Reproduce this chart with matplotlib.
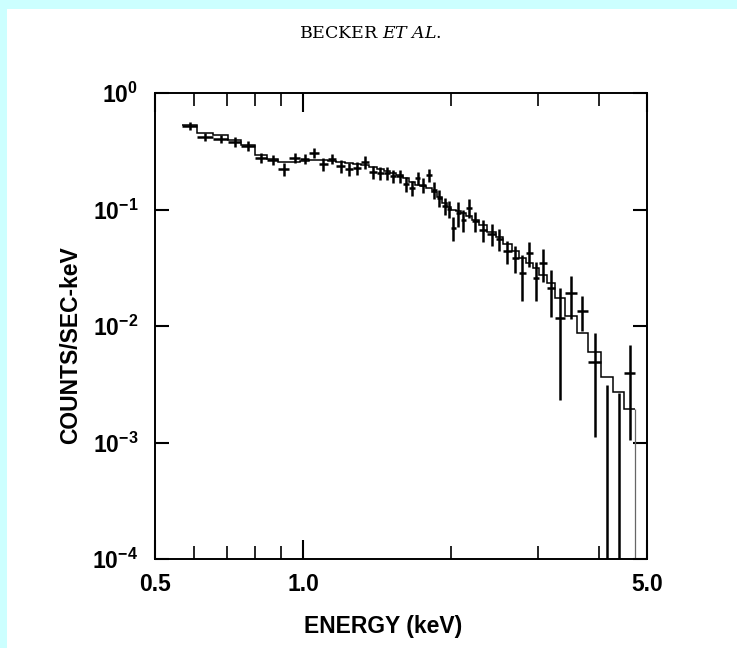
import numpy as np
import matplotlib
matplotlib.use("Agg")
import matplotlib.pyplot as plt
from matplotlib.patches import Rectangle
from matplotlib.ticker import FixedLocator, FixedFormatter, NullFormatter, NullLocator

# pulse-height channel boundaries (keV)
bin_edges = [0.567, 0.610, 0.657, 0.705, 0.749, 0.798, 0.846, 0.891, 0.938, 0.986,
             1.030, 1.075, 1.121, 1.169, 1.217, 1.263, 1.311, 1.361, 1.410, 1.457,
             1.502, 1.548, 1.596, 1.642, 1.688, 1.732, 1.777, 1.824, 1.867, 1.916,
             1.961, 1.998, 2.041, 2.089, 2.143, 2.204, 2.278, 2.370, 2.461, 2.554,
             2.652, 2.746, 2.838, 2.926, 3.023, 3.131, 3.258, 3.414, 3.595, 3.802,
             4.031, 4.264, 4.500, 4.727]

# observed rate per channel (counts/sec-keV), nan where only a limit exists
rate = [0.521, 0.419, 0.403, 0.380, 0.351, 0.277, 0.266, 0.223, 0.277, 0.271,
        0.305, 0.246, 0.271, 0.236, 0.223, 0.227, 0.256, 0.210, 0.206, 0.206,
        0.194, 0.194, 0.166, 0.153, 0.186, 0.162, 0.198, 0.147, 0.126, 0.107,
        0.101, 0.0694, 0.0933, 0.0813, 0.103, 0.0796, 0.0667, 0.0616, 0.0558, 0.0440,
        0.0384, 0.0285, 0.0423, 0.0258, 0.0347, 0.0212, 0.0117, 0.0192, 0.0135, 0.00491,
        np.nan, np.nan, 0.00395]

rate_err = [0.042, 0.034, 0.032, 0.038, 0.035, 0.028, 0.027, 0.028, 0.028, 0.027,
            0.030, 0.031, 0.027, 0.030, 0.028, 0.029, 0.032, 0.026, 0.026, 0.026,
            0.024, 0.024, 0.025, 0.023, 0.023, 0.024, 0.025, 0.025, 0.021, 0.018,
            0.017, 0.016, 0.022, 0.017, 0.019, 0.015, 0.014, 0.013, 0.012, 0.010,
            0.010, 0.012, 0.0105, 0.0095, 0.011, 0.0092, 0.0094, 0.0078, 0.0045, 0.0038,
            np.nan, np.nan, 0.0029]

# channels with no net counts: upper bound of the error bar only
limit_idx = [50, 51]
rate_limit = [0.00312, 0.00266]

# folded best-fit model
model_rate = [0.531, 0.454, 0.436, 0.395, 0.358, 0.294, 0.271, 0.256, 0.256, 0.261,
              0.266, 0.266, 0.261, 0.256, 0.251, 0.246, 0.241, 0.232, 0.223, 0.214,
              0.206, 0.198, 0.186, 0.172, 0.162, 0.159, 0.153, 0.141, 0.128, 0.114,
              0.105, 0.099, 0.097, 0.0933, 0.088, 0.0813, 0.0736, 0.0641, 0.0581, 0.0506,
              0.0440, 0.0384, 0.0347, 0.0315, 0.0274, 0.0234, 0.0174, 0.0122, 0.0087, 0.00598,
              0.00365, 0.00271, 0.00194]

x_ticks = [0.5, 1.0, 5.0]
x_ticklabels = ["0.5", "1.0", "5.0"]
x_minor = [0.6, 0.7, 0.8, 0.9, 2.0, 3.0, 4.0]
y_ticks = [1e-4, 1e-3, 1e-2, 1e-1, 1e0]
y_ticklabels = [r"$10^{-4}$", r"$10^{-3}$", r"$10^{-2}$", r"$10^{-1}$", r"$10^{0}$"]

SANS = "Liberation Sans"
plt.rcParams["font.family"] = SANS
plt.rcParams["mathtext.fontset"] = "custom"
plt.rcParams["mathtext.rm"] = SANS + ":bold"
plt.rcParams["mathtext.it"] = SANS + ":bold:italic"
plt.rcParams["mathtext.bf"] = SANS + ":bold"

W, H = 737, 648
fig = plt.figure(figsize=(W / 100, H / 100), dpi=100, facecolor="#ccffff")
fig.patches.append(Rectangle((7 / W, 0), 1, 1 - 9 / H, transform=fig.transFigure,
                             facecolor="white", edgecolor="none", zorder=-1))

ax = fig.add_axes([155 / W, 1 - 559 / H, 492 / W, 466 / H])
ax.set_xscale("log")
ax.set_yscale("log")
ax.set_xlim(0.5, 5.0)
ax.set_ylim(1e-4, 1.0)

edges = np.array(bin_edges)
centers = np.sqrt(edges[:-1] * edges[1:])
rate = np.array(rate)
rate_err = np.array(rate_err)
ok = ~np.isnan(rate)

xerr = np.vstack([centers - edges[:-1], edges[1:] - centers])
ax.errorbar(centers[ok], rate[ok], xerr=xerr[:, ok], yerr=rate_err[ok],
            fmt="none", ecolor="black", elinewidth=1.8, capsize=0, zorder=3)
ax.vlines(centers[limit_idx], 1e-5, rate_limit, color="black", lw=1.8, zorder=3)

ax.stairs(model_rate, edges, baseline=None, color="black", lw=1.1, zorder=2)
ax.vlines(edges[-1], 1e-5, model_rate[-1], color="0.4", lw=0.9, zorder=2)

ax.xaxis.set_major_locator(FixedLocator(x_ticks))
ax.xaxis.set_major_formatter(FixedFormatter(x_ticklabels))
ax.xaxis.set_minor_locator(FixedLocator(x_minor))
ax.xaxis.set_minor_formatter(NullFormatter())
ax.yaxis.set_major_locator(FixedLocator(y_ticks))
ax.yaxis.set_major_formatter(FixedFormatter(y_ticklabels))
ax.yaxis.set_minor_locator(NullLocator())

ax.tick_params(which="both", direction="in", top=True, right=True, labelsize=16.5)
ax.tick_params(axis="x", which="major", length=14, width=1.5, pad=10)
ax.tick_params(axis="x", which="minor", length=9.5, width=1.2)
ax.tick_params(axis="y", which="major", length=10, width=1.5, pad=12)
for lab in ax.get_xticklabels():
    lab.set_fontweight("bold")
for s in ax.spines.values():
    s.set_linewidth(1.4)

fig.text(383 / W, 1 - 627 / H, "ENERGY (keV)", ha="center", va="center",
         fontsize=16.5, fontweight="bold")
fig.text(71 / W, 1 - 345 / H, "COUNTS/SEC-keV", ha="center", va="center",
         rotation=90, fontsize=16.5, fontweight="bold")
fig.text(370 / W, 1 - 33 / H, r"BECKER $\mathit{ET\ AL.}$", ha="center", va="center",
         fontsize=12.5, family="DejaVu Serif", math_fontfamily="dejavuserif")

fig.savefig("out.png", dpi=100, facecolor=fig.get_facecolor())
